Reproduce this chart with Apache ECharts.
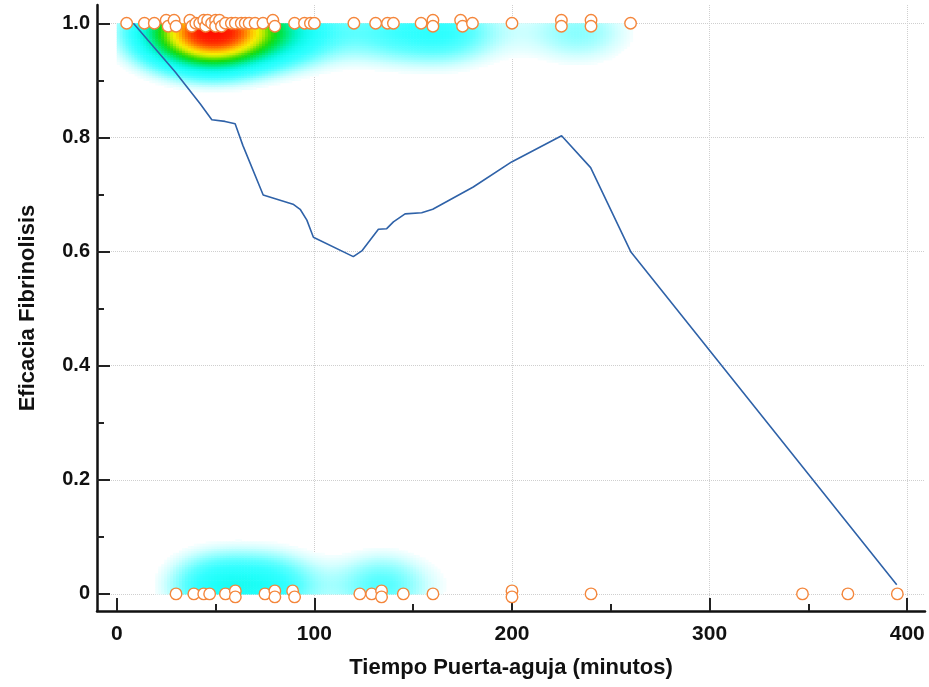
<!DOCTYPE html>
<html>
<head>
<meta charset="utf-8">
<script src="https://cdn.jsdelivr.net/npm/echarts@6/dist/echarts.min.js"></script>
<style>
  html, body { margin: 0; padding: 0; background: #ffffff; }
  #chart { width: 929px; height: 687px; }
</style>
</head>
<body>
<div id="chart"></div>
<script>
// Door-to-needle time (minutes) of patients whose fibrinolysis succeeded (1) or failed (0)
const outcomeOne = [5, 14, 19, 25, 26, 29, 30, 37, 38, 40, 42, 44, 45, 46, 48, 50, 50, 52, 53, 55,
  58, 60, 63, 65, 67, 70, 74, 79, 80, 90, 95, 98, 100, 120, 131, 137, 140, 154, 160, 160,
  174, 175, 180, 200, 225, 225, 240, 240, 260];
const outcomeZero = [30, 39, 44, 47, 55, 60, 60, 75, 80, 80, 89, 90, 123, 129, 134, 134, 145,
  160, 200, 200, 240, 347, 370, 395];

// Smoothed efficacy curve
const curveX = [8.4, 29.5, 42.2, 48.1, 54.8, 59.9, 63.8, 74.1, 89.2, 92.8, 96.2, 99.5, 119.7, 124,
  132.4, 136.6, 140, 145.9, 154.3, 159.9, 180.4, 199.8, 225.1, 239.8, 260.2, 394.7];
const curveY = [1.0, 0.915, 0.859, 0.831, 0.828, 0.824, 0.786, 0.699, 0.683, 0.674, 0.655, 0.625,
  0.591, 0.601, 0.639, 0.640, 0.652, 0.666, 0.668, 0.674, 0.713, 0.757, 0.803, 0.747, 0.599, 0.016];

// Axis ticks
const xTicks = [0, 100, 200, 300, 400];
const xMinorTicks = [50, 150, 250, 350];
const yTicks = [0, 0.2, 0.4, 0.6, 0.8, 1.0];
const yTickLabels = ['0', '0.2', '0.4', '0.6', '0.8', '1.0'];
const yMinorTicks = [0.1, 0.3, 0.5, 0.7, 0.9];

const X_MIN = -10, X_MAX = 409, Y_MIN = -0.03, Y_MAX = 1.032;

// Kernel density of the observations along the time axis, spread as a band
// just inside the 0 and 1 levels.
const BANDWIDTH = 17;
const SPREAD = 0.05;
const SHIFT = 0.016;
function kernelSum(xs, x) {
  let s = 0;
  for (const xi of xs) {
    const d = (x - xi) / BANDWIDTH;
    s += Math.exp(-0.5 * d * d);
  }
  return s;
}
const heatCells = [];
const DX = 1.5, DY = 0.004;
let heatMax = 0;
for (let i = 0; i * DX < X_MAX; i++) {
  const x0 = i * DX, xm = x0 + DX / 2;
  const dTop = kernelSum(outcomeOne, xm);
  const dBot = kernelSum(outcomeZero, xm);
  for (let j = 0; j * DY < 0.16; j++) {
    const d0 = j * DY, dm = d0 + DY / 2;
    const f = Math.exp(-0.5 * Math.pow((dm - SHIFT) / SPREAD, 2));
    const vt = dTop * f, vb = dBot * f;
    heatMax = Math.max(heatMax, vt, vb);
    heatCells.push([x0, 1 - d0 - DY, vt, x0 + DX, 1 - d0]);
    heatCells.push([x0, d0, vb, x0 + DX, d0 + DY]);
  }
}
// keep only the cells that are tinted
const heatData = heatCells.filter(c => c[2] > heatMax * 0.11);

// Overlapping markers are nudged up/down a few pixels
function markerItems(xs, y) {
  const sorted = xs.slice().sort((a, b) => a - b);
  const offs = sorted.map(() => 0);
  for (let i = 1; i < sorted.length; i++) {
    if (sorted[i] - sorted[i - 1] <= 1.5) {
      if (offs[i - 1] === 0) { offs[i - 1] = -3; offs[i] = 3; }
      else offs[i] = -offs[i - 1];
    }
  }
  return sorted.map((x, i) => ({ value: [x, y], symbolOffset: [0, offs[i]] }));
}

const FONT = "'Liberation Sans', Arial, sans-serif";
const gridLine = { show: true, lineStyle: { color: '#cfcfcf', type: 'dotted', width: 1 } };

const chart = echarts.init(document.getElementById('chart'), null, { renderer: 'canvas' });
chart.setOption({
  animation: false,
  backgroundColor: '#ffffff',
  grid: { left: 97, right: 4, top: 5, bottom: 76, containLabel: false },
  visualMap: {
    show: false, type: 'continuous', seriesIndex: 0, dimension: 2, min: 0, max: heatMax,
    inRange: {
      color: ['#ffffff', '#ffffff', '#ffffff', '#d4ffff', '#98ffff', '#5cffff', '#34ffff',
        '#20fffa', '#10faea', '#00f4c4', '#00ec88', '#00e448', '#18dc10', '#60e000',
        '#c0ea00', '#f8ec00', '#ffc000', '#ff8400', '#ff4c00', '#ff2400', '#ff1000']
    }
  },
  xAxis: [
    {
      type: 'value', min: X_MIN, max: X_MAX, position: 'bottom',
      name: 'Tiempo Puerta-aguja (minutos)', nameLocation: 'middle', nameGap: 46,
      nameTextStyle: { fontFamily: FONT, fontWeight: 'bold', fontSize: 22, color: '#111' },
      axisLine: { onZero: false, lineStyle: { color: '#111', width: 2.5 } },
      axisTick: { inside: true, length: 13, customValues: xTicks, lineStyle: { color: '#222', width: 2 } },
      axisLabel: { customValues: xTicks, margin: 13, fontFamily: FONT, fontWeight: 'bold', fontSize: 21, color: '#111' },
      splitLine: Object.assign({ showMinLine: false }, gridLine)
    },
    {
      type: 'value', min: X_MIN, max: X_MAX, position: 'bottom',
      axisLine: { show: false, onZero: false },
      axisTick: { inside: true, length: 7, customValues: xMinorTicks, lineStyle: { color: '#222', width: 2 } },
      axisLabel: { show: false },
      splitLine: { show: false }
    }
  ],
  yAxis: [
    {
      type: 'value', min: Y_MIN, max: Y_MAX, position: 'left',
      name: 'Eficacia Fibrinolisis', nameLocation: 'middle', nameGap: 58, nameRotate: 90,
      nameTextStyle: { fontFamily: FONT, fontWeight: 'bold', fontSize: 22, color: '#111' },
      axisLine: { onZero: false, lineStyle: { color: '#111', width: 2.5 } },
      axisTick: { inside: true, length: 13, customValues: yTicks, lineStyle: { color: '#222', width: 2 } },
      axisLabel: {
        customValues: yTicks, margin: 7, fontFamily: FONT, fontWeight: 'bold', fontSize: 20, color: '#111',
        formatter: v => { const k = yTicks.findIndex(t => Math.abs(t - v) < 1e-6); return k >= 0 ? yTickLabels[k] : ''; }
      },
      splitLine: gridLine
    },
    {
      type: 'value', min: Y_MIN, max: Y_MAX, position: 'left',
      axisLine: { show: false, onZero: false },
      axisTick: { inside: true, length: 7, customValues: yMinorTicks, lineStyle: { color: '#222', width: 2 } },
      axisLabel: { show: false },
      splitLine: { show: false }
    }
  ],
  series: [
    {
      type: 'custom', xAxisIndex: 0, yAxisIndex: 0, silent: true, z: 1, clip: true,
      progressive: 0,
      data: heatData,
      encode: { x: [0, 3], y: [1, 4] },
      renderItem: function (params, api) {
        const p0 = api.coord([api.value(0), api.value(1)]);
        const p1 = api.coord([api.value(3), api.value(4)]);
        return {
          type: 'rect',
          shape: {
            x: Math.min(p0[0], p1[0]), y: Math.min(p0[1], p1[1]),
            width: Math.abs(p1[0] - p0[0]) + 0.6, height: Math.abs(p1[1] - p0[1]) + 0.6
          },
          style: { fill: api.visual('color') }
        };
      }
    },
    {
      type: 'line', xAxisIndex: 0, yAxisIndex: 0, z: 3, silent: true,
      data: curveX.map((x, i) => [x, curveY[i]]),
      showSymbol: false, symbol: 'none',
      lineStyle: { color: '#2f62a8', width: 1.6 }
    },
    {
      type: 'scatter', xAxisIndex: 0, yAxisIndex: 0, z: 4, silent: true,
      data: markerItems(outcomeOne, 1).concat(markerItems(outcomeZero, 0)),
      symbol: 'circle', symbolSize: 11.5,
      itemStyle: { color: '#ffffff', borderColor: '#f4863b', borderWidth: 1.4, opacity: 1 }
    }
  ]
});
</script>
</body>
</html>
